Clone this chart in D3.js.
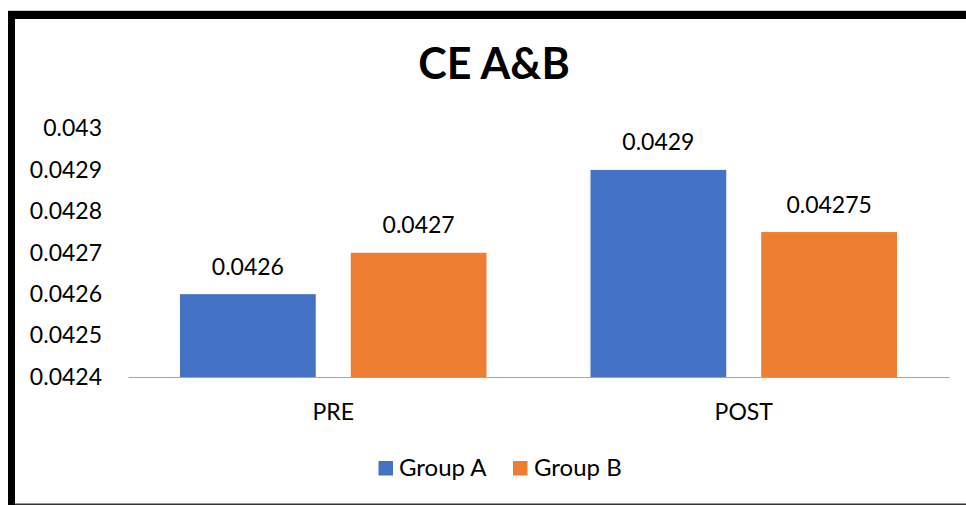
<!DOCTYPE html>
<html>
<head>
<meta charset="utf-8">
<script src="https://cdn.jsdelivr.net/npm/d3@7"></script>
<style>
  html, body { margin: 0; padding: 0; background: #fff; }
  svg { display: block; }
  text { font-family: Lato, "Open Sans", sans-serif; fill: #000; }
</style>
</head>
<body>
<svg id="chart" width="966" height="505"></svg>
<script>
// Data
const categories = ["PRE", "POST"];
const seriesNames = ["Group A", "Group B"];
const groupA = [0.0426, 0.0429];
const groupB = [0.0427, 0.04275];
const valueLabels = [["0.0426", "0.0429"], ["0.0427", "0.04275"]];
const yTicks = [0.0424, 0.0425, 0.0426, 0.0427, 0.0428, 0.0429, 0.043];
const yTickLabels = ["0.0424", "0.0425", "0.0426", "0.0427", "0.0428", "0.0429", "0.043"];
const colors = ["#4472C4", "#ED7D31"];
const title = "CE A&B";

const FONT = "Lato, 'Open Sans', sans-serif";
const svg = d3.select("#chart");

// Frame: heavy top and left rules, thin bottom rule
svg.append("rect").attr("x", 8).attr("y", 10).attr("width", 958).attr("height", 1).attr("fill", "#cfcfcf");
svg.append("rect").attr("x", 8).attr("y", 11).attr("width", 958).attr("height", 8).attr("fill", "#000");
svg.append("rect").attr("x", 8).attr("y", 11).attr("width", 7).attr("height", 494).attr("fill", "#000");
svg.append("rect").attr("x", 15).attr("y", 503.5).attr("width", 951).attr("height", 1.5).attr("fill", "#333");

// Title
svg.append("text")
  .attr("x", 494).attr("y", 79)
  .attr("text-anchor", "middle")
  .style("font-size", "43px").style("font-weight", "bold")
  .text(title);

// Scales
const x0 = d3.scaleBand().domain(categories).range([128, 949]).paddingInner(0).paddingOuter(0);
const x1 = d3.scaleBand().domain(seriesNames).range([52, x0.bandwidth() - 52]).paddingInner(0.205).paddingOuter(0);
const y = d3.scaleLinear().domain([0.0424, 0.043]).range([377, 128.5]);

// Y axis labels (no line, no ticks)
const yAxis = d3.axisLeft(y).tickValues(yTicks).tickFormat((d, i) => yTickLabels[i]).tickSize(0).tickPadding(0);
const yg = svg.append("g").attr("transform", "translate(102,0)").call(yAxis);
yg.select(".domain").remove();
yg.selectAll("text").style("font-size", "23px").style("font-family", FONT).attr("fill", "#000");

// Bars
const series = [groupA, groupB];
const bars = [];
categories.forEach((c, ci) => {
  seriesNames.forEach((s, si) => {
    bars.push({ cat: c, ser: s, si, v: series[si][ci], label: valueLabels[si][ci] });
  });
});

svg.append("g").selectAll("rect").data(bars).join("rect")
  .attr("x", d => x0(d.cat) + x1(d.ser))
  .attr("width", x1.bandwidth())
  .attr("y", d => y(d.v))
  .attr("height", d => y(0.0424) - y(d.v))
  .attr("fill", d => colors[d.si]);

// Value labels
svg.append("g").selectAll("text").data(bars).join("text")
  .attr("x", d => x0(d.cat) + x1(d.ser) + x1.bandwidth() / 2)
  .attr("y", d => y(d.v) - 19.5)
  .attr("text-anchor", "middle")
  .style("font-size", "23px")
  .text(d => d.label);

// X axis baseline and category labels
const xAxis = d3.axisBottom(x0).tickSize(0).tickPadding(0);
const xg = svg.append("g").attr("transform", `translate(0,${y(0.0424)})`).call(xAxis);
xg.select(".domain").attr("stroke", "#a6a6a6").attr("stroke-width", 1.2);
xg.selectAll("text").attr("dy", null).attr("y", 43).style("font-size", "23px")
  .style("font-family", FONT).attr("fill", "#000");

// Legend
const legendItems = [
  { name: seriesNames[0], color: colors[0], sx: 378.5, tx: 399 },
  { name: seriesNames[1], color: colors[1], sx: 513, tx: 534 }
];
const lg = svg.append("g");
legendItems.forEach(it => {
  lg.append("rect").attr("x", it.sx).attr("y", 461).attr("width", 14.5).attr("height", 14.5).attr("fill", it.color);
  lg.append("text").attr("x", it.tx).attr("y", 476).style("font-size", "24px").text(it.name);
});
</script>
</body>
</html>
